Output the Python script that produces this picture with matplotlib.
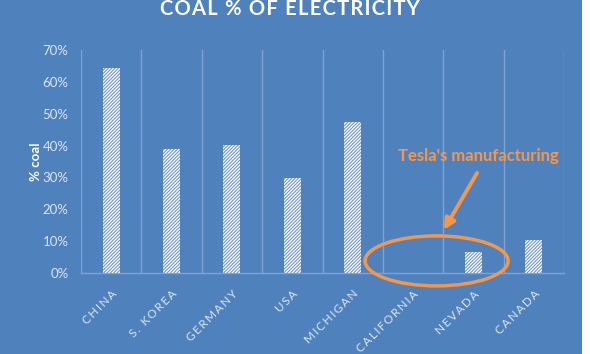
import numpy as np
import matplotlib
matplotlib.use("Agg")
import matplotlib.pyplot as plt
from matplotlib.patches import Ellipse, Rectangle

# data
categories = ["CHINA", "S. KOREA", "GERMANY", "USA", "MICHIGAN",
              "CALIFORNIA", "NEVADA", "CANADA"]
coal_share = [0.645, 0.39, 0.401, 0.298, 0.473, 0.0, 0.066, 0.103]
y_ticks = [0.0, 0.1, 0.2, 0.3, 0.4, 0.5, 0.6, 0.7]
y_tick_labels = ["0%", "10%", "20%", "30%", "40%", "50%", "60%", "70%"]

blue = "#4F81BD"
orange = "#F79646"
light = "#DCE6F2"
grid_col = "#7FA2D2"


def spaced(s, gap="\u200a"):
    # mimic the letter spacing of the original chart
    return gap.join(s)


plt.rcParams["font.family"] = ["Lato", "DejaVu Sans"]
plt.rcParams["hatch.linewidth"] = 0.8

fig = plt.figure(figsize=(5.9, 3.54), dpi=100, facecolor=blue)
# white strip on the right edge
fig.patches.append(Rectangle((582 / 590, 0), 8 / 590, 1, transform=fig.transFigure,
                             facecolor="white", edgecolor="none", zorder=-10))

ax = fig.add_axes([81 / 590, 1 - 273 / 354, 483 / 590, 223 / 354])
ax.set_facecolor("none")

x = np.arange(len(categories))
ax.bar(x, coal_share, width=0.28, color="white", edgecolor="#7396C8",
       hatch="/" * 10, linewidth=0, zorder=3)

ax.set_xlim(-0.5, len(categories) - 0.5)
ax.set_ylim(0, 0.7)

# vertical gridlines at category boundaries
for b in np.arange(-0.5, len(categories), 1.0):
    ax.axvline(b, color=grid_col, lw=1.0, zorder=1)

for s in ["top", "right", "left"]:
    ax.spines[s].set_visible(False)
ax.spines["bottom"].set_color(grid_col)
ax.spines["bottom"].set_linewidth(1.0)

ax.set_yticks(y_ticks)
ax.set_yticklabels(y_tick_labels, color=light, fontsize=9.5)
ax.set_xticks(x)
ax.set_xticklabels([spaced(c, "\u2009") for c in categories], rotation=45,
                   ha="right", va="top", rotation_mode="anchor", color=light,
                   fontsize=8.5)
ax.tick_params(axis="both", length=0)
ax.tick_params(axis="x", pad=11)
ax.tick_params(axis="y", pad=9)

ax.set_ylabel("% coal", color="white", fontsize=9.5, fontweight="bold",
              labelpad=0)

fig.text(290 / 590, 1 - 15 / 354, spaced("COAL % OF ELECTRICITY"), color="white",
         fontsize=14.5, fontweight="bold", ha="center", va="baseline")

# annotation
ax.add_patch(Ellipse((5.39, 0.038), 2.37, 0.157, facecolor="none",
                     edgecolor=orange, lw=2.5, clip_on=False, zorder=4))
ax.annotate("", xy=(5.51, 0.135), xytext=(6.06, 0.314),
            arrowprops=dict(arrowstyle="-|>", color=orange, lw=2.8,
                            mutation_scale=16, shrinkA=0, shrinkB=0),
            annotation_clip=False, zorder=4)
ax.text(6.09, 0.367, "Tesla's manufacturing", color=orange, fontsize=12,
        fontweight="bold", ha="center", va="center", zorder=4)

fig.savefig("out.png", dpi=100, facecolor=blue)
